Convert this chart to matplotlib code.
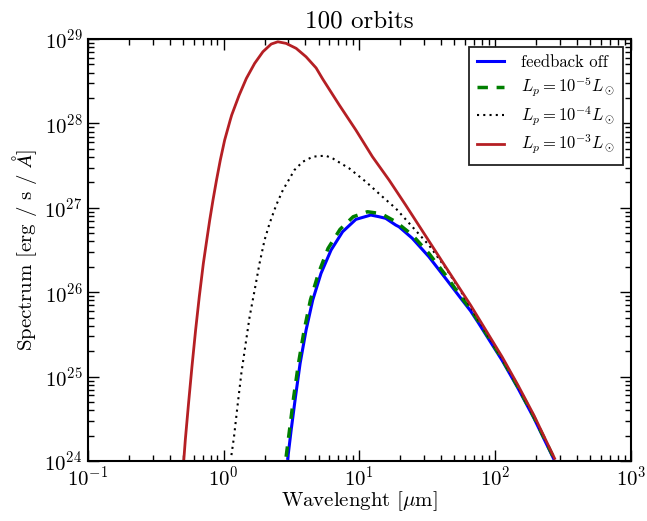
import numpy as np
import matplotlib
matplotlib.use("Agg")
import matplotlib.pyplot as plt

# Spectra: log10(wavelength / micron) and log10(spectrum / erg s^-1 A^-1)
off_logx = [0.472, 0.497, 0.529, 0.563, 0.607, 0.656, 0.717, 0.791, 0.876, 0.974,
            1.084, 1.145, 1.194, 1.268, 1.292, 1.390, 1.512, 1.635, 1.757, 1.819,
            1.880, 2.051, 2.168, 2.285, 2.430]
off_logy = [24.032, 24.367, 24.762, 25.157, 25.552, 25.908, 26.224, 26.500, 26.717, 26.864,
            26.915, 26.895, 26.876, 26.796, 26.776, 26.639, 26.421, 26.165, 25.908, 25.780,
            25.630, 25.195, 24.865, 24.512, 24.032]

lp5_logx = [0.460, 0.485, 0.516, 0.551, 0.593, 0.639, 0.698, 0.769, 0.857, 0.954,
            1.059, 1.145, 1.170, 1.268, 1.390, 1.512, 1.635, 1.757, 1.819, 1.880,
            2.051, 2.168, 2.285, 2.434]
lp5_logy = [24.051, 24.367, 24.762, 25.157, 25.552, 25.908, 26.224, 26.520, 26.745, 26.895,
            26.954, 26.935, 26.923, 26.836, 26.678, 26.461, 26.204, 25.928, 25.800, 25.650,
            25.210, 24.878, 24.525, 24.032]

lp4_logx = [0.057, 0.076, 0.101, 0.130, 0.162, 0.191, 0.228, 0.264, 0.301, 0.338,
            0.387, 0.436, 0.472, 0.521, 0.582, 0.656, 0.705, 0.754, 0.803, 0.925,
            1.048, 1.170, 1.268, 1.390, 1.512, 1.635, 1.757, 1.819, 1.880, 2.051,
            2.168, 2.285, 2.436]
lp4_logy = [24.071, 24.288, 24.643, 25.039, 25.394, 25.710, 26.026, 26.342, 26.618, 26.816,
            27.033, 27.211, 27.310, 27.448, 27.546, 27.606, 27.614, 27.617, 27.586, 27.468,
            27.309, 27.132, 26.994, 26.776, 26.559, 26.290, 25.985, 25.825, 25.665, 25.220,
            24.885, 24.530, 24.032]

lp3_logx = [-0.294, -0.283, -0.259, -0.234, -0.207, -0.180, -0.150, -0.123, -0.103, -0.079,
            -0.053, -0.025, 0.007, 0.048, 0.059, 0.114, 0.167, 0.228, 0.289, 0.350,
            0.399, 0.460, 0.534, 0.607, 0.681, 0.729, 0.852, 0.974, 1.096, 1.219,
            1.341, 1.452, 1.635, 1.819, 2.051, 2.168, 2.285, 2.438]
lp3_logy = [24.012, 24.249, 24.684, 25.117, 25.552, 25.947, 26.342, 26.639, 26.855, 27.092,
            27.329, 27.566, 27.803, 28.040, 28.100, 28.336, 28.534, 28.712, 28.850, 28.941,
            28.968, 28.949, 28.890, 28.790, 28.658, 28.528, 28.218, 27.922, 27.606, 27.329,
            27.033, 26.757, 26.302, 25.848, 25.236, 24.900, 24.545, 24.032]

labels = ["feedback off",
          r"$L_p = 10^{-5} L_\odot$",
          r"$L_p = 10^{-4} L_\odot$",
          r"$L_p = 10^{-3} L_\odot$"]

plt.rcParams.update({
    "font.family": "serif",
    "font.serif": ["cmr10"],
    "mathtext.fontset": "cm",
    "axes.unicode_minus": False,
    "axes.formatter.use_mathtext": True,
    "xtick.direction": "in",
    "ytick.direction": "in",
    "xtick.top": True,
    "ytick.right": True,
    "xtick.major.size": 8,
    "ytick.major.size": 8,
    "xtick.minor.size": 4,
    "ytick.minor.size": 4,
    "xtick.major.width": 1,
    "ytick.major.width": 1,
    "xtick.minor.width": 1,
    "ytick.minor.width": 1,
    "xtick.major.pad": 3,
    "ytick.major.pad": 4,
    "axes.linewidth": 1.5,
})

fig = plt.figure(figsize=(6.47, 5.21), dpi=100)
ax = fig.add_axes([0.136, 0.115, 0.839, 0.81])

def lin(v):
    return 10.0 ** np.asarray(v)

ax.plot(lin(off_logx), lin(off_logy), color="#0000ff", lw=2.2, label=labels[0])
ax.plot(lin(lp5_logx), lin(lp5_logy), color="#007f00", lw=2.5, ls=(0, (3, 2.5)), label=labels[1])
ax.plot(lin(lp4_logx), lin(lp4_logy), color="black", lw=1.5, ls=(0, (1, 2)), label=labels[2])
ax.plot(lin(lp3_logx), lin(lp3_logy), color="#b51f24", lw=2.0, label=labels[3])

ax.set_xscale("log")
ax.set_yscale("log")
ax.set_xlim(1e-1, 1e3)
ax.set_ylim(1e24, 1e29)

ax.tick_params(labelsize=15)
ax.set_xlabel(r"Wavelenght [$\mu$m]", fontsize=15, labelpad=0)
ax.set_ylabel(r"Spectrum [erg / s / $\AA$]", fontsize=15)
ax.set_title("100 orbits", fontsize=18, pad=8)

leg = ax.legend(loc="upper right", fontsize=12, fancybox=False, framealpha=1,
                edgecolor="#222222", handlelength=1.6, handletextpad=1.0,
                labelspacing=0.3, borderaxespad=0.45, borderpad=0.5)
leg.get_frame().set_linewidth(1.3)

fig.savefig("out.png", dpi=100)
